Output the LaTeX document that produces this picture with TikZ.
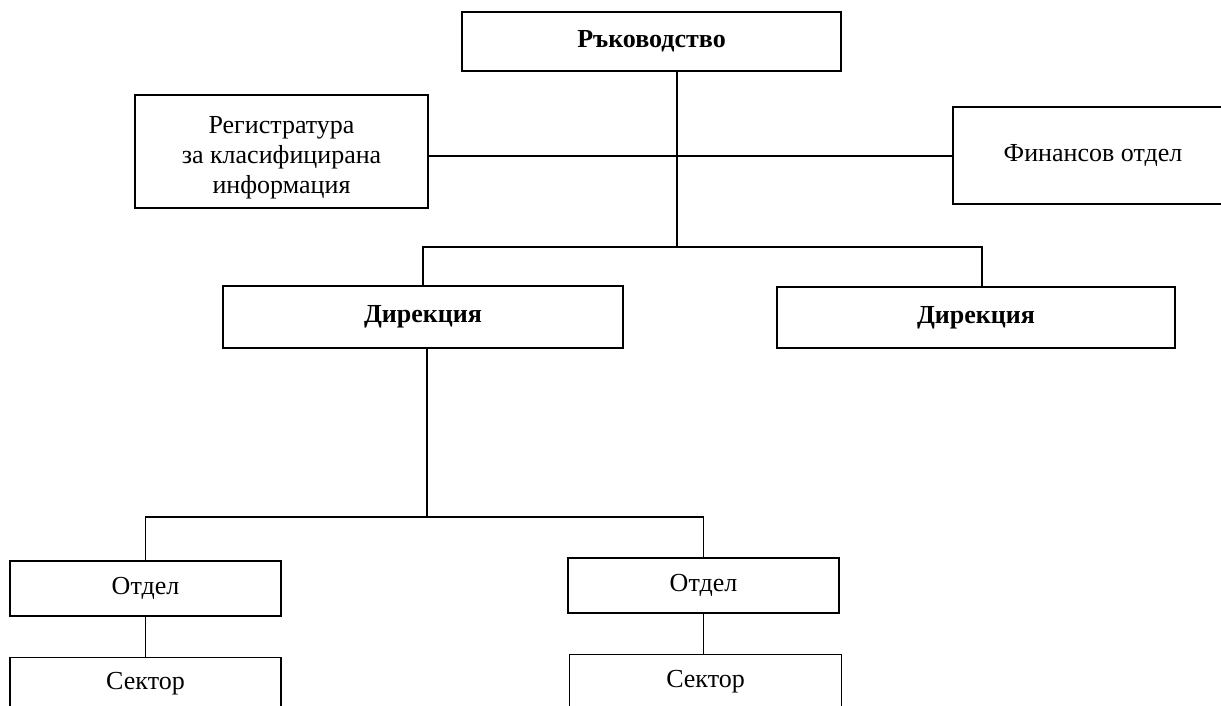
\documentclass[tikz,border=0pt]{standalone}
\usepackage{fontspec}
\setmainfont{Liberation Serif}
\usetikzlibrary{positioning}

\begin{document}
\begin{tikzpicture}[
    x=1pt, y=-1pt,
    block/.style={draw, line width=1.6pt, text centered, inner sep=0pt,
    font=\fontsize{26}{30}\selectfont},
    head/.style={block, font=\fontsize{26}{30}\selectfont\bfseries},
    wire/.style={draw, line width=1.2pt}
    ]
    \useasboundingbox (0,0) rectangle (1221,705);
    \clip (0,0) rectangle (1221,705);

    \node[head]   (lead)  at (651.5,41.5)  [minimum width=379pt, minimum height=59pt]   {Ръководство};
    \node[block]  (reg)   at (281.5,151.5) [minimum width=293pt, minimum height=113pt,
                                            align=center]                              {\rule{0pt}{30pt}Регистратура\\за класифицирана\\информация};
    \node[block]  (fin)   at (1093,155.5)  [minimum width=280pt, minimum height=97pt]   {Финансов отдел};

    \node[head]   (dirA)  at (423,317)     [minimum width=400pt, minimum height=62pt]   {Дирекция};
    \node[head]   (dirB)  at (976,317.5)   [minimum width=398pt, minimum height=61pt]   {Дирекция};

    \node[block]  (depA)  at (145.5,588.5) [minimum width=271pt, minimum height=55pt]   {Отдел};
    \node[block]  (depB)  at (703.5,585.5) [minimum width=271pt, minimum height=55pt]   {Отдел};

    \node[block]  (secA)  [below=40pt of depA, minimum width=271pt, minimum height=52pt] {Сектор};
    \node[block]  (secB)  [below=40pt of depB, xshift=2pt, minimum width=272pt, minimum height=54pt] {Сектор};

    \coordinate (top) at (677,247);
    \coordinate (hub) at (677,156);
    \coordinate (mid) at (427,517);

    \path[wire]
    (lead.south -| top)  --  (top)
    (reg.east |- hub)    --  (fin.west |- hub)
    (dirA.north)  |-  (top)  -|  ([xshift=6pt]dirB.north)
    (dirA.south -| mid)  --  (mid)
    (depA.north)  |-  (mid)  -|  (depB.north)
    (depA.south)  --  (secA.north -| depA.south)
    (depB.south)  --  (secB.north -| depB.south)
    ;
\end{tikzpicture}
\end{document}
